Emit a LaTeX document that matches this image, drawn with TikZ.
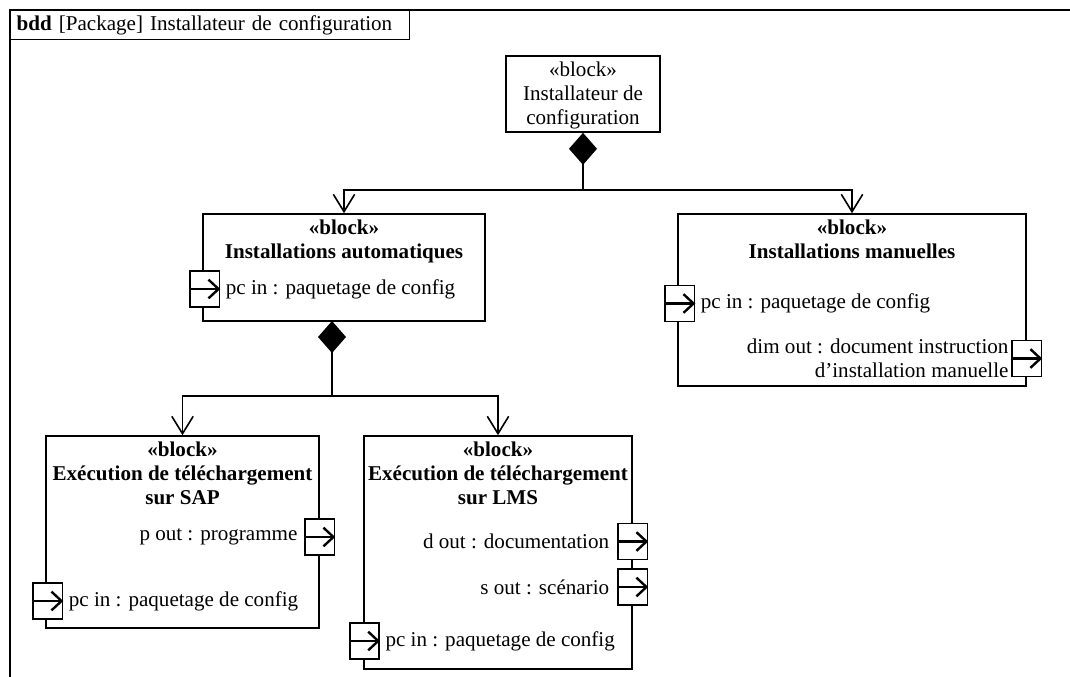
\documentclass[tikz,border=0pt]{standalone}
\usepackage{fontspec}
\setmainfont{Liberation Serif}
\usetikzlibrary{arrows.meta,positioning}

\tikzset{
  txt/.style={font=\fontsize{15.8}{18}\selectfont},
  blk/.style={draw,line width=1.2pt,inner sep=0pt},
  stereo/.style={txt,anchor=north,align=center,inner xsep=2pt,inner ysep=5pt},
  port/.style={draw,line width=1.1pt,fill=white,minimum width=22pt,minimum height=27pt,inner sep=0pt},
  parrow/.style={line width=1.6pt,-{Straight Barb[length=7.5pt,width=14pt,line width=1.8pt]}},
  lbl/.style={txt,inner sep=0pt},
  link/.style={line width=1.2pt},
  diam/.style={{Diamond[length=24pt,width=21pt]}-},
  vee/.style={-{Straight Barb[length=13pt,width=16pt,line width=1.2pt]}}
}

\begin{document}
\begin{tikzpicture}[x=0.75pt,y=-0.75pt]
  \useasboundingbox (0,0) rectangle (1070,677);
  % frame
  \draw[line width=1pt] (10,677) -- (10,10) -- (1070,10);
  \node[draw,line width=1pt,txt,anchor=north west,text width=290pt,inner xsep=4.5pt,minimum height=21.75pt,align=left] (ttl) at (10,10)
    {\textbf{bdd} [Package] Installateur de configuration};

  % blocks
  \node[blk,minimum width=115.5pt,minimum height=57pt] (inst) at (583,94) {};
  \node[stereo] at (inst.north) {«block»\\Installateur de\\configuration};

  \node[blk,minimum width=211.5pt,minimum height=80.25pt] (auto) at (344,267.5) {};
  \node[stereo,font=\fontsize{15.8}{18}\selectfont\bfseries] at (auto.north) {«block»\\Installations automatiques};

  \node[blk,minimum width=261pt,minimum height=129pt] (manu) at (852,300) {};
  \node[stereo,font=\fontsize{15.8}{18}\selectfont\bfseries] at (manu.north) {«block»\\Installations manuelles};

  \node[blk,minimum width=204.75pt,minimum height=144pt] (sap) at (182.5,532) {};
  \node[stereo,font=\fontsize{15.8}{18}\selectfont\bfseries] at (sap.north) {«block»\\Exécution de téléchargement\\sur SAP};

  \node[blk,minimum width=201pt,minimum height=174.75pt] (lms) at (498,552.5) {};
  \node[stereo,font=\fontsize{15.8}{18}\selectfont\bfseries] at (lms.north) {«block»\\Exécution de téléchargement\\sur LMS};

  % ports
  \node[port,xshift=2pt] (autopc) at (auto.west |- 0,289) {};
  \draw[parrow] (autopc.west) -- (autopc.east);
  \node[lbl,right=4pt of autopc] {pc in : paquetage de config};

  \node[port,xshift=2pt] (manupc) at (manu.west |- 0,303.5) {};
  \draw[parrow] (manupc.west) -- (manupc.east);
  \node[lbl,right=4pt of manupc] {pc in : paquetage de config};

  \node[port] (manudim) at (manu.east |- 0,358.5) {};
  \draw[parrow] (manudim.west) -- (manudim.east);
  \node[lbl,align=right,left=2pt of manudim] {dim out : document instruction\\d’installation manuelle};

  \node[port] (sapp) at (sap.east |- 0,537) {};
  \draw[parrow] (sapp.west) -- (sapp.east);
  \node[lbl,left=5pt of sapp] {p out : programme};

  \node[port,xshift=2pt] (sappc) at (sap.west |- 0,601) {};
  \draw[parrow] (sappc.west) -- (sappc.east);
  \node[lbl,right=4pt of sappc] {pc in : paquetage de config};

  \node[port] (lmsd) at (lms.east |- 0,541.5) {};
  \draw[parrow] (lmsd.west) -- (lmsd.east);
  \node[lbl,left=6pt of lmsd] {d out : documentation};

  \node[port] (lmss) at (lms.east |- 0,587) {};
  \draw[parrow] (lmss.west) -- (lmss.east);
  \node[lbl,left=6pt of lmss] {s out : scénario};

  \node[port,xshift=1pt] (lmspc) at (lms.west |- 0,641) {};
  \draw[parrow] (lmspc.west) -- (lmspc.east);
  \node[lbl,right=4pt of lmspc] {pc in : paquetage de config};

  % composition links
  \coordinate (j1) at (inst.south |- 0,190);
  \draw[link,diam] (inst.south) -- (j1);
  \draw[link,vee] (j1) -| (auto.north);
  \draw[link,vee] (j1) -| (manu.north);

  \coordinate (d2) at (332,321);
  \coordinate (j2) at (332,396);
  \draw[link,diam] (d2) -- (j2);
  \draw[link,vee] (j2) -| (sap.north);
  \draw[link,vee] (j2) -| (lms.north);
\end{tikzpicture}
\end{document}
